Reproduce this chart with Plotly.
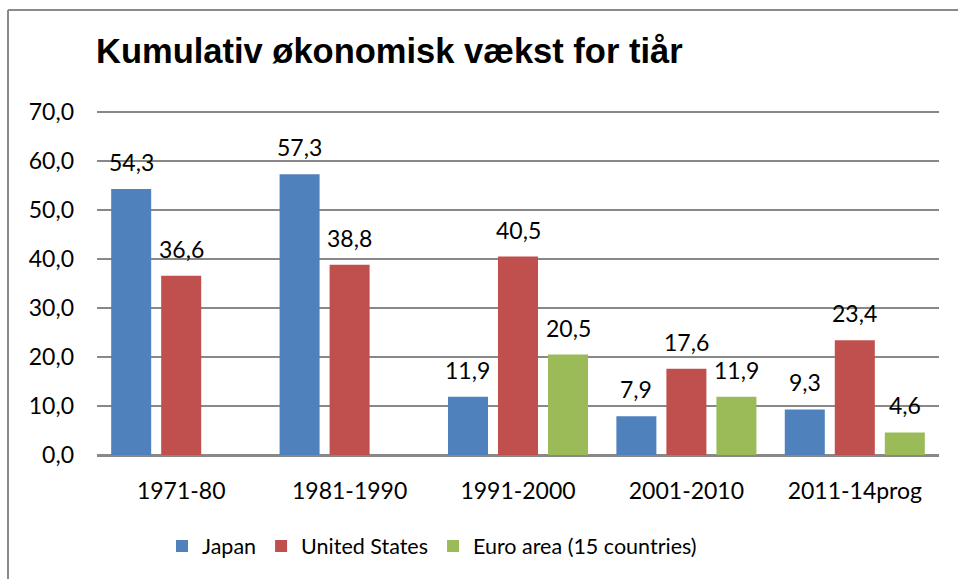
import plotly.graph_objects as go

# ---- data ----
categories = ["1971-80", "1981-1990", "1991-2000", "2001-2010", "2011-14prog"]
japan = [54.3, 57.3, 11.9, 7.9, 9.3]
united_states = [36.6, 38.8, 40.5, 17.6, 23.4]
euro_area = [None, None, 20.5, 11.9, 4.6]
series_names = ["Japan", "United States", "Euro area (15 countries)"]
y_ticks = [0, 10, 20, 30, 40, 50, 60, 70]

# ---- style ----
colors = ["#4F81BD", "#C0504D", "#9BBB59"]
FONT = "Lato, Calibri, Carlito, sans-serif"
TITLE_FONT = "Liberation Sans, Arial, sans-serif"
GRID = "#888888"
BARGAP = 0.109
GROUPGAP = 0.2

W, H = 958, 579
ML, MR, MT, MB = 97, 19, 110, 124

fig = go.Figure()
all_series = [japan, united_states, euro_area]
for name, vals, col in zip(series_names, all_series, colors):
    fig.add_trace(go.Bar(
        x=categories, y=vals, name=name,
        marker=dict(color=col, line=dict(width=0)),
        hoverinfo="x+y+name",
    ))

# data labels as annotations above each bar
n = len(all_series)
slot = (1 - BARGAP) / n
annotations = []
for k, vals in enumerate(all_series):
    offset = (k - (n - 1) / 2) * slot
    for i, v in enumerate(vals):
        if v is None:
            continue
        annotations.append(dict(
            x=i + offset, y=v, xref="x", yref="y",
            text=f"{v:.1f}".replace(".", ","),
            showarrow=False, yshift=27, yanchor="middle", xanchor="center",
            font=dict(family=FONT, size=23, color="#000000"),
        ))

pw = W - ML - MR
ph = H - MT - MB
def px_x(x):
    return (x - ML) / pw
def px_y(y):
    return (H - MB - y) / ph

shapes = [
    dict(type="line", xref="paper", yref="paper",
         x0=px_x(8), x1=px_x(W + 5), y0=px_y(10), y1=px_y(10),
         line=dict(color="#8a8a8a", width=2)),
    dict(type="line", xref="paper", yref="paper",
         x0=px_x(8), x1=px_x(8), y0=px_y(10), y1=px_y(H + 5),
         line=dict(color="#8a8a8a", width=2)),
]

fig.update_layout(
    width=W, height=H,
    margin=dict(l=ML, r=MR, t=MT, b=MB),
    paper_bgcolor="white", plot_bgcolor="white",
    separators=",.",
    barmode="group", bargap=BARGAP, bargroupgap=GROUPGAP,
    title=dict(
        text="<b>Kumulativ økonomisk vækst for tiår</b>",
        font=dict(family=TITLE_FONT, size=34.5, color="#000000"),
        x=96 / W, xanchor="left", xref="container",
        y=1 - 51 / H, yanchor="middle", yref="container",
    ),
    font=dict(family=FONT, size=23, color="#000000"),
    xaxis=dict(
        type="category", showgrid=False, showline=True,
        linecolor=GRID, linewidth=2, ticks="",
        tickfont=dict(family=FONT, size=23, color="#000000"),
        ticklabelstandoff=14,
    ),
    yaxis=dict(
        range=[0, 70.4], tickvals=y_ticks, tickformat=".1f",
        showgrid=True, gridcolor=GRID, gridwidth=2,
        zeroline=True, zerolinecolor=GRID, zerolinewidth=2,
        showline=False, ticks="",
        tickfont=dict(family=FONT, size=23, color="#000000"),
        ticklabelstandoff=22,
    ),
    legend=dict(
        orientation="h", x=px_x(432), xanchor="center",
        y=px_y(546), yanchor="middle",
        font=dict(family=FONT, size=21.5, color="#000000"),
        bgcolor="rgba(0,0,0,0)",
    ),
    annotations=annotations,
    shapes=shapes,
    showlegend=True,
)

fig.write_html("out.html", config={"displayModeBar": False},
               post_script="document.body.style.margin='0';")
